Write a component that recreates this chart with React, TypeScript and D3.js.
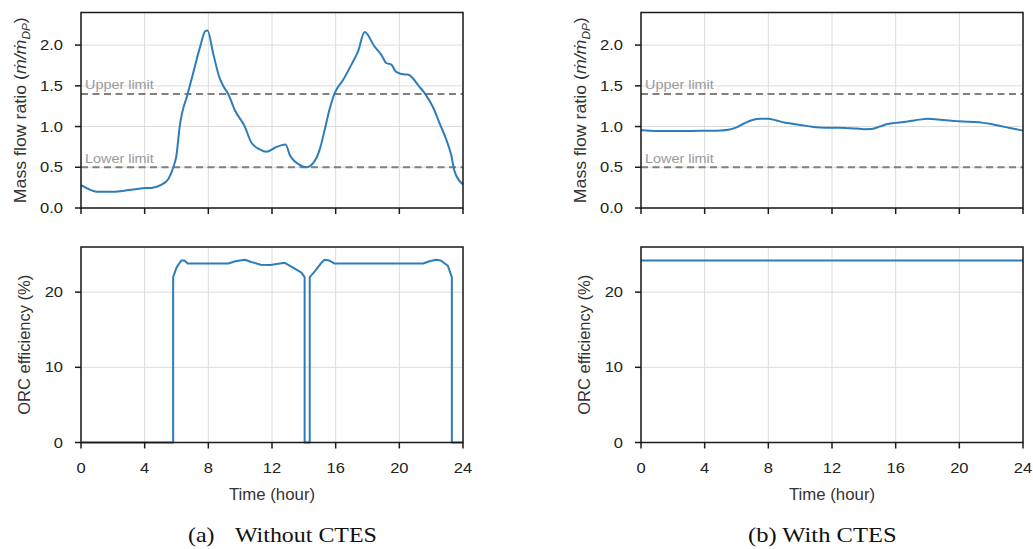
import React, { useEffect } from "react";
import * as d3 from "d3";

// ---------- data ----------
const HOUR_TICKS = [0, 4, 8, 12, 16, 20, 24];
const RATIO_TICKS = [0, 0.5, 1.0, 1.5, 2.0];
const EFF_TICKS = [0, 10, 20];
const UPPER_LIMIT = 1.4;
const LOWER_LIMIT = 0.5;

// (a) Without CTES — mass flow ratio
const HOURS_A = [0, 0.5, 1, 2, 3, 4, 4.5, 5, 5.5, 5.8, 6.0, 6.2, 6.7, 7.0, 7.5, 7.8, 7.95, 8.3, 8.7, 8.93,
  9.25, 9.67, 10.29, 10.71, 11.23, 11.65, 12.18, 12.85, 13.12, 13.74, 14.16, 14.58, 15.0, 15.3, 15.6, 15.94,
  16.46, 16.99, 17.4, 17.82, 18.45, 18.87, 19.18, 19.5, 19.8, 20.33, 20.54, 20.86, 21.17, 21.59, 22.11, 22.53,
  22.95, 23.26, 23.47, 24];
const RATIO_A = [0.28, 0.23, 0.2, 0.2, 0.22, 0.245, 0.25, 0.28, 0.36, 0.5, 0.65, 1.0, 1.4, 1.62, 1.99, 2.17,
  2.18, 1.9, 1.6, 1.5, 1.4, 1.2, 1.0, 0.8, 0.72, 0.69, 0.74, 0.78, 0.65, 0.53, 0.5, 0.55, 0.72, 0.95, 1.2,
  1.41, 1.57, 1.76, 1.92, 2.16, 1.98, 1.88, 1.78, 1.76, 1.67, 1.64, 1.64, 1.59, 1.51, 1.41, 1.24, 1.04, 0.84,
  0.65, 0.45, 0.29];

// (a) Without CTES — ORC efficiency
const EFF_HOURS_A = [0, 5.79, 5.79, 6.0, 6.3, 6.5, 6.7, 9.25, 9.7, 10.3, 10.7, 11.3, 11.9, 12.8, 13.3, 13.85,
  14.05, 14.05, 14.37, 14.37, 14.7, 15.1, 15.3, 15.6, 15.95, 21.5, 21.9, 22.3, 22.6, 23.05, 23.3, 23.3, 24];
const EFF_A = [0, 0, 22.0, 23.25, 24.2, 24.2, 23.8, 23.8, 24.1, 24.3, 24.0, 23.65, 23.6, 23.9, 23.3, 22.6,
  22.0, 0, 0, 22.0, 22.8, 23.9, 24.3, 24.2, 23.8, 23.8, 24.1, 24.3, 24.2, 23.5, 22.0, 0, 0];

// (b) With CTES — mass flow ratio
const HOURS_B = [0, 1, 2, 3, 4, 5, 5.5, 6, 6.5, 7, 7.5, 8, 8.5, 9, 9.5, 10, 10.5, 11, 11.5, 12, 12.5, 13,
  13.5, 14, 14.5, 15, 15.5, 16, 16.5, 17, 17.5, 18, 18.5, 19, 19.5, 20, 20.5, 21, 21.5, 22, 22.5, 23, 23.5, 24];
const RATIO_B = [0.955, 0.945, 0.945, 0.945, 0.948, 0.952, 0.96, 0.99, 1.04, 1.08, 1.095, 1.095, 1.075,
  1.05, 1.035, 1.02, 1.005, 0.99, 0.985, 0.985, 0.985, 0.98, 0.975, 0.968, 0.97, 1.0, 1.03, 1.045, 1.055,
  1.07, 1.085, 1.095, 1.09, 1.08, 1.07, 1.065, 1.06, 1.055, 1.045, 1.03, 1.01, 0.99, 0.97, 0.95];

// (b) With CTES — ORC efficiency
const EFF_HOURS_B = [0, 24];
const EFF_B = [24.2, 24.2];

// ---------- layout ----------
const W = 1033;
const H = 549;
const LINE = "#2e7dbb";

type TProps = {
  x: number; y: number; size: number; sx?: number; anchor?: string; fill?: string;
  family?: string; children: React.ReactNode; rotate?: number;
};
function T({ x, y, size, sx = 1, anchor = "start", fill = "#222", family = "'Liberation Sans', Arial, sans-serif", children, rotate = 0 }: TProps) {
  return (
    <text
      transform={`translate(${x},${y}) rotate(${rotate}) scale(${sx},1)`}
      fontSize={size}
      fontFamily={family}
      textAnchor={anchor}
      fill={fill}
    >
      {children}
    </text>
  );
}

type Series = { xs: number[]; ys: number[]; smooth: boolean };

function Panel(props: {
  ox: number; top: number; height: number; yMax: number; yTicks: number[]; yFmt: (v: number) => string;
  showX: boolean; ylabel: React.ReactNode; series: Series; limits: boolean; ylabelX: number; ylabelLen?: number;
}) {
  const { ox, top, height, yMax, yTicks, yFmt, showX, ylabel, series, limits, ylabelX, ylabelLen } = props;
  const left = ox + 81;
  const right = ox + 463;
  const x = d3.scaleLinear().domain([0, 24]).range([left, right]);
  const y = d3.scaleLinear().domain([0, yMax]).range([top + height, top]);
  const pts: [number, number][] = series.xs.map((h, i) => [h, series.ys[i]]);
  const gen = d3
    .line<[number, number]>()
    .x((d) => x(d[0]))
    .y((d) => y(d[1]))
    .curve(series.smooth ? d3.curveMonotoneX : d3.curveLinear);
  const bottom = top + height;
  return (
    <g>
      {/* grid */}
      {HOUR_TICKS.map((t) => (
        <line key={"gx" + t} x1={x(t)} x2={x(t)} y1={top} y2={bottom} stroke="#dcdcdc" strokeWidth={1} />
      ))}
      {yTicks.map((t) => (
        <line key={"gy" + t} x1={left} x2={right} y1={y(t)} y2={y(t)} stroke="#dcdcdc" strokeWidth={1} />
      ))}
      {limits && (
        <g>
          <line x1={left} x2={right} y1={y(UPPER_LIMIT)} y2={y(UPPER_LIMIT)} stroke="#808080" strokeWidth={2} strokeDasharray="7,4.5" />
          <line x1={left} x2={right} y1={y(LOWER_LIMIT)} y2={y(LOWER_LIMIT)} stroke="#808080" strokeWidth={2} strokeDasharray="7,4.5" />
          <T x={left + 4} y={y(UPPER_LIMIT) - 5} size={12} sx={1.2} fill="#9a9a9a">Upper limit</T>
          <T x={left + 4} y={y(LOWER_LIMIT) - 4.5} size={12} sx={1.2} fill="#9a9a9a">Lower limit</T>
        </g>
      )}
      {/* data line */}
      <path d={gen(pts) || ""} fill="none" stroke={LINE} strokeWidth={2} strokeLinejoin="round" />
      {/* frame */}
      <rect x={left} y={top} width={right - left} height={height} fill="none" stroke="#1a1a1a" strokeWidth={1.5} />
      {/* ticks */}
      {HOUR_TICKS.map((t) => (
        <line key={"tx" + t} x1={x(t)} x2={x(t)} y1={bottom} y2={bottom + 6} stroke="#1a1a1a" strokeWidth={1.5} />
      ))}
      {yTicks.map((t) => (
        <line key={"ty" + t} x1={left - 6} x2={left} y1={y(t)} y2={y(t)} stroke="#1a1a1a" strokeWidth={1.5} />
      ))}
      {yTicks.map((t) => (
        <T key={"ly" + t} x={left - 18} y={y(t) + 5} size={14} sx={1.18} anchor="end">{yFmt(t)}</T>
      ))}
      {showX &&
        HOUR_TICKS.map((t) => (
          <T key={"lx" + t} x={x(t)} y={bottom + 30} size={14} sx={1.18} anchor="middle">{String(t)}</T>
        ))}
      {showX && (
        <T x={(left + right) / 2} y={500} size={16} sx={1.05} anchor="middle" fill="#333">Time (hour)</T>
      )}
      <text
        transform={`translate(${ox + ylabelX},${top + height / 2}) rotate(-90)`}
        fontSize={16.5}
        fontFamily="'Liberation Sans', Arial, sans-serif"
        textAnchor="middle"
        fill="#333"
        {...(ylabelLen ? { textLength: ylabelLen, lengthAdjust: "spacingAndGlyphs" } : {})}
      >
        {ylabel}
      </text>
    </g>
  );
}

const ratioLabel = (
  <>
    <tspan>Mass flow ratio (</tspan>
    <tspan fontStyle="italic">{"m\u0307/m\u0307"}</tspan>
    <tspan fontStyle="italic" fontSize={11} dy={4}>DP</tspan>
    <tspan dy={-4}>)</tspan>
  </>
);

export default function App() {
  useEffect(() => {
    document.body.style.margin = "0";
  }, []);
  const fmt1 = (v: number) => v.toFixed(1);
  const fmt0 = (v: number) => String(v);
  const serif = "'Liberation Serif', 'Times New Roman', serif";
  return (
    <svg width={W} height={H} style={{ display: "block", position: "absolute", left: 0, top: 0, background: "#fff" }}>
      <rect x={0} y={0} width={W} height={H} fill="#fff" />
      {[0, 560].map((ox, i) => (
        <g key={ox}>
          <Panel
            ox={ox} top={12.5} height={195.5} yMax={2.4} yTicks={RATIO_TICKS} yFmt={fmt1}
            showX={false} ylabel={ratioLabel} limits={true} ylabelX={26} ylabelLen={186}
            series={i === 0 ? { xs: HOURS_A, ys: RATIO_A, smooth: true } : { xs: HOURS_B, ys: RATIO_B, smooth: true }}
          />
          <Panel
            ox={ox} top={247} height={195.5} yMax={26} yTicks={EFF_TICKS} yFmt={fmt0}
            showX={true} ylabel={"ORC efficiency (%)"} limits={false} ylabelX={30}
            series={i === 0 ? { xs: EFF_HOURS_A, ys: EFF_A, smooth: false } : { xs: EFF_HOURS_B, ys: EFF_B, smooth: false }}
          />
        </g>
      ))}
      <T x={188} y={542} size={21} sx={1.14} family={serif} fill="#111">(a)</T>
      <T x={235} y={542} size={21} sx={1.14} family={serif} fill="#111">Without CTES</T>
      <T x={748} y={542} size={21} sx={1.17} family={serif} fill="#111">(b) With CTES</T>
    </svg>
  );
}
